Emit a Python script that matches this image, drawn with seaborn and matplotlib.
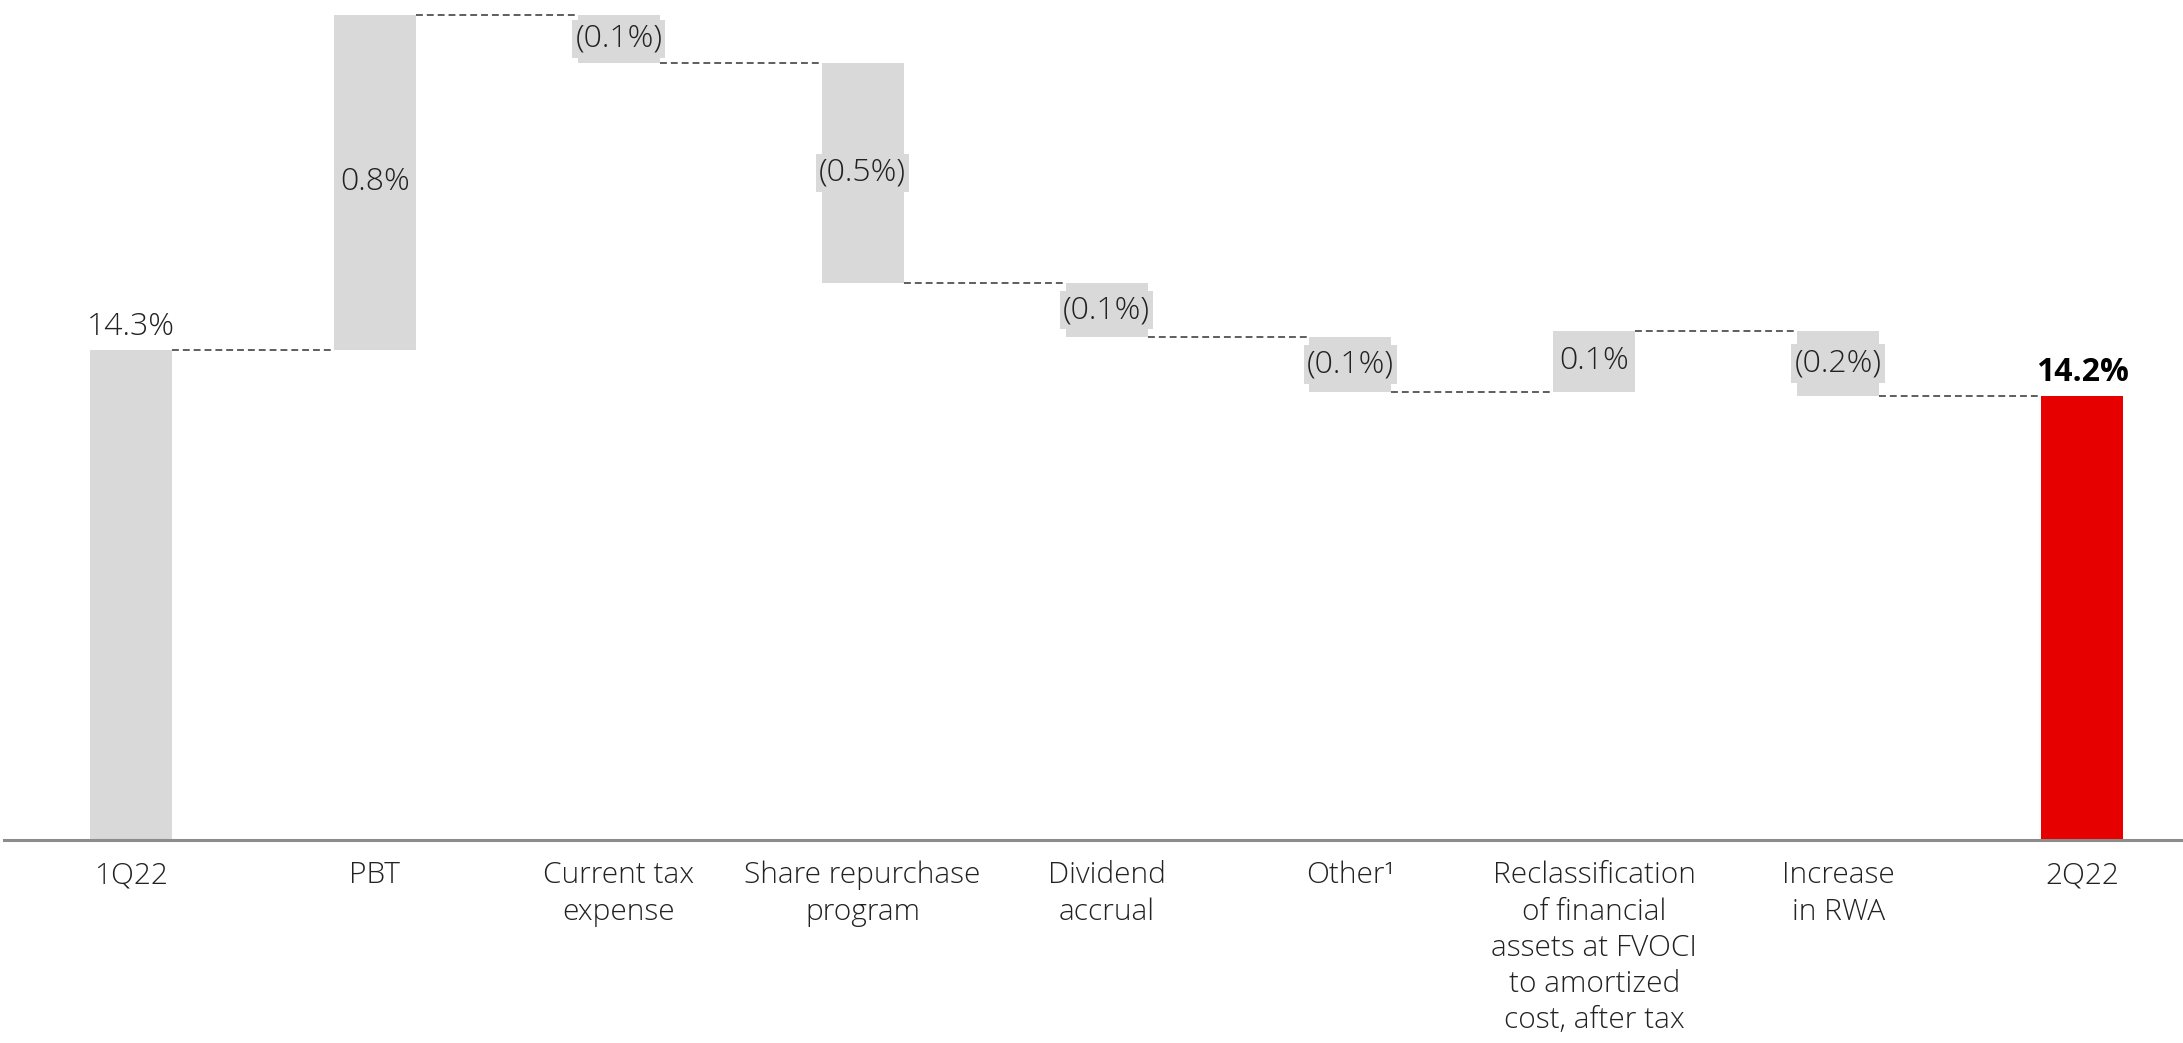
import numpy as np
import pandas as pd
import matplotlib
matplotlib.use("Agg")
import matplotlib.pyplot as plt
import seaborn as sns

# ---- data ----
categories = ["1Q22", "PBT", "Current tax\nexpense", "Share repurchase\nprogram",
              "Dividend\naccrual", "Other\u00b9",
              "Reclassification\nof financial\nassets at FVOCI\nto amortized\ncost, after tax",
              "Increase\nin RWA", "2Q22"]
start_value = 14.30
deltas = [0.80, -0.115, -0.525, -0.13, -0.13, 0.145, -0.155]
end_value = 14.19
value_labels = ["14.3%", "0.8%", "(0.1%)", "(0.5%)", "(0.1%)", "(0.1%)", "0.1%", "(0.2%)", "14.2%"]

# ---- styling ----
GRAY = "#d9d9d9"
RED = "#e60000"
TEXT = "#222222"
FONT = "Open Sans"
FS_TICK = 21.5
FS_VAL = 23

sns.set_theme(style="white")
plt.rcParams["font.family"] = [FONT, "DejaVu Sans"]

levels = start_value + np.cumsum(deltas)
prev = np.concatenate([[start_value], levels[:-1]])
bottoms = np.concatenate([[0.0], np.minimum(prev, levels), [0.0]])
heights = np.concatenate([[start_value], np.abs(deltas), [end_value]])

df = pd.DataFrame({"category": categories, "height": heights})

W, H = 2183, 1043
fig = plt.figure(figsize=(W / 100, H / 100), dpi=100)
ax = fig.add_axes([4 / W, (H - 840) / H, 1 - 4 / W, 840 / H])

bar_w = 0.336
sns.barplot(data=df, x="category", y="height", order=categories, bottom=bottoms,
            color=GRAY, width=bar_w, saturation=1, errorbar=None, ax=ax, linewidth=0)
ax.patches[-1].set_facecolor(RED)
ax.patches[-1].set_edgecolor(RED)

ax.set_ylim(13.13, 15.135)
ax.set_xlim(-0.521, 8.414)

# connectors
conn_levels = np.concatenate([[start_value], levels])
for i, lv in enumerate(conn_levels):
    ax.plot([i + bar_w / 2, i + 1 - bar_w / 2], [lv, lv], linestyle=(0, (4.5, 2.6)),
            color="#333333", linewidth=1.1, zorder=1)

# value labels
n = len(categories)
for i, lab in enumerate(value_labels):
    if i == 0 or i == n - 1:
        top = heights[i]
        ax.annotate(lab, (i, top), xytext=(0, 5), textcoords="offset points",
                    ha="center", va="bottom", fontsize=FS_VAL,
                    color=TEXT if i == 0 else "black",
                    fontweight="light" if i == 0 else "bold")
    else:
        mid = bottoms[i] + heights[i] / 2
        ax.text(i, mid, lab, ha="center", va="center", fontsize=FS_VAL, color=TEXT,
                fontweight="light",
                bbox=dict(boxstyle="square,pad=0.1", fc=GRAY, ec="none"))

# axes styling
for s in ["top", "right", "left"]:
    ax.spines[s].set_visible(False)
ax.spines["bottom"].set_color("#8c8c8c")
ax.spines["bottom"].set_linewidth(2.2)
ax.set_yticks([])
ax.set_xlabel("")
ax.set_ylabel("")
ax.tick_params(axis="x", length=0, pad=15, labelsize=FS_TICK, labelcolor=TEXT)
for t in ax.get_xticklabels():
    t.set_fontweight("light")
    t.set_linespacing(1.30)

fig.savefig("out.png", dpi=100, facecolor="white")
